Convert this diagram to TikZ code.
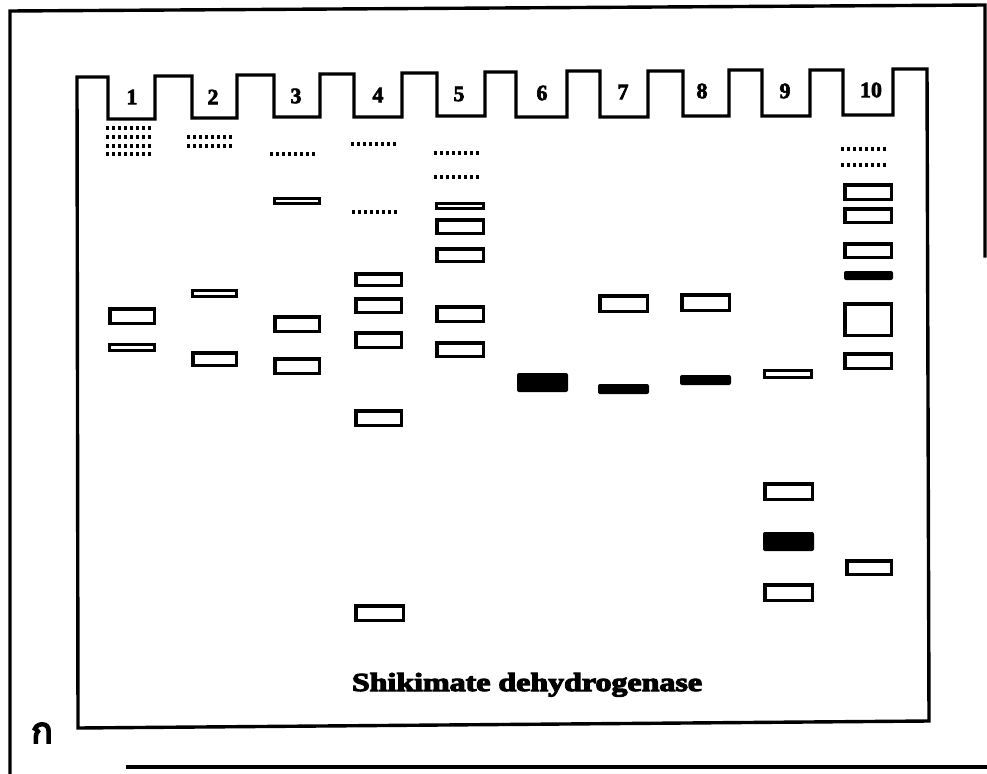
\documentclass[tikz,border=0pt]{standalone}
\usepackage{fontspec}
\setmainfont{Liberation Serif}
\newfontfamily\heavyfont[FakeBold=3]{Liberation Serif Bold}
\newfontfamily\titlefont[FakeBold=4]{Liberation Serif Bold}
\newfontfamily\thaifont[Script=Thai,FakeBold=5]{Loma}
\tikzset{
  frameline/.style={line width=3.4bp, line join=miter, line cap=rect},
  openband/.style={draw, line width=3.5bp},
  thinband/.style={draw, line width=3bp},
  fillband/.style={fill=black, rounded corners=2bp},
  dotline/.style={line width=3.3bp, dash pattern=on 3bp off 3bp},
  lanenum/.style={font=\heavyfont\fontsize{22}{22}\selectfont, inner sep=0pt}
}
\newcommand\bandO[4]{\draw[openband] (#1+1.75,#3+1.75) rectangle (#2-1.75,#4-1.75);}
\newcommand\bandT[4]{\draw[thinband] (#1+1.5,#3+1.5) rectangle (#2-1.5,#4-1.5);}
\newcommand\bandF[4]{\fill[fillband] (#1,#3) rectangle (#2,#4);}
\newcommand\dotrow[3]{\draw[dotline] (#1,#3) -- (#2,#3);}
\begin{document}
\begin{tikzpicture}[x=1bp,y=-1bp]
\useasboundingbox (0,0) rectangle (987,774);
% outer frame
\draw[frameline] (10,774) -- (10,11) -- (985,5) -- (985,256);
\draw[frameline] (128,767) -- (987,767);
% gel outline with comb
\draw[frameline] (929,721) -- (78,728) -- (77,77)
  -- (108,77) -- (108,119) -- (155,119) -- (155,76)
  -- (192,76) -- (192,118) -- (237,118) -- (237,75)
  -- (274,75) -- (274,117) -- (320,117) -- (320,74)
  -- (354,74) -- (354,117) -- (402,117) -- (402,73)
  -- (437,73) -- (437,116) -- (485,116) -- (485,72)
  -- (516,72) -- (516,117) -- (567,117) -- (567,71)
  -- (600,71) -- (600,117) -- (648,117) -- (648,71)
  -- (683,71) -- (683,116) -- (729,116) -- (729,70)
  -- (762,70) -- (762,116) -- (810,116) -- (810,70)
  -- (843,70) -- (843,115) -- (893,115) -- (893,69)
  -- (927,69) -- (929,721);
% lane numbers
\node[lanenum] (n1) at (132,97) {1};
\node[lanenum] (n2) at (213,97) {2};
\node[lanenum] (n3) at (296,96) {3};
\node[lanenum] (n4) at (378,95) {4};
\node[lanenum] (n5) at (459,94) {5};
\node[lanenum] (n6) at (542,93) {6};
\node[lanenum] (n7) at (623,92) {7};
\node[lanenum] (n8) at (702,91) {8};
\node[lanenum] (n9) at (785,91) {9};
\node[lanenum] (n10) at (871,90) {10};
% lane 1
\dotrow{106}{152}{128}\dotrow{106}{152}{137}\dotrow{106}{152}{146}\dotrow{106}{152}{154}
\bandO{108}{156}{307}{325}
\bandT{108}{156}{343}{352}
% lane 2
\dotrow{187}{233}{137}\dotrow{187}{233}{146}
\bandT{191}{238}{289}{298}
\bandO{191}{238}{351}{367}
% lane 3
\dotrow{270}{317}{154}
\bandT{273}{321}{197}{205}
\bandO{273}{321}{315}{333}
\bandO{273}{321}{357}{375}
% lane 4
\dotrow{351}{398}{144}\dotrow{352}{398}{212}
\bandO{354}{403}{272}{287}
\bandO{354}{403}{297}{314}
\bandO{354}{403}{331}{349}
\bandO{354}{403}{409}{427}
\bandO{354}{405}{604}{622}
% lane 5
\dotrow{434}{480}{153}\dotrow{434}{480}{177}
\bandT{435}{485}{202}{210}
\bandO{435}{485}{218}{235}
\bandO{435}{485}{247}{263}
\bandO{435}{485}{305}{323}
\bandO{435}{485}{341}{358}
% lane 6
\bandF{517}{568}{373}{392}
% lane 7
\bandO{598}{649}{294}{313}
\bandF{598}{649}{384}{394}
% lane 8
\bandO{680}{731}{293}{312}
\bandF{680}{731}{375}{385}
% lane 9
\bandT{763}{813}{369}{379}
\bandO{763}{814}{482}{501}
\bandF{763}{814}{532}{551}
\bandO{763}{814}{583}{602}
% lane 10
\dotrow{841}{889}{149}\dotrow{841}{889}{165}
\bandO{843}{893}{183}{201}
\bandO{843}{893}{207}{224}
\bandO{843}{893}{242}{259}
\bandF{844}{893}{271}{280}
\bandO{843}{893}{302}{337}
\bandO{843}{893}{352}{370}
\bandO{845}{893}{559}{576}
% title
\node[anchor=base, inner sep=0pt] (title) at (527,691) {\resizebox{350bp}{18bp}{\titlefont Shikimate dehydrogenase}};
% Thai label
\node[inner sep=0pt] (thai) at (42,733) {\thaifont\fontsize{36}{36}\selectfont ก};
\end{tikzpicture}
\end{document}
